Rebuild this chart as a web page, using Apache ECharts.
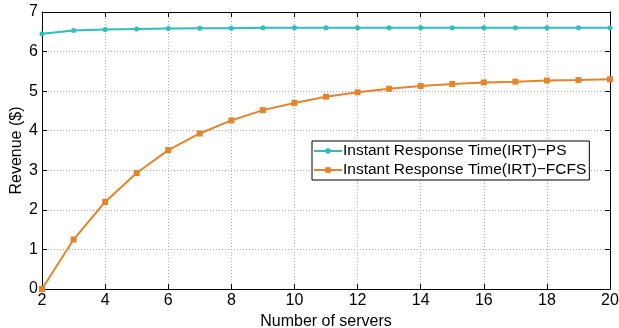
<!DOCTYPE html>
<html>
<head>
<meta charset="utf-8">
<script src="https://cdn.jsdelivr.net/npm/echarts@6/dist/echarts.min.js"></script>
<style>
  html, body { margin: 0; padding: 0; background: #fff; }
  #chart { width: 619px; height: 328px; }
</style>
</head>
<body>
<div id="chart"></div>
<script>
// Number of servers on the x axis
const servers = [2, 3, 4, 5, 6, 7, 8, 9, 10, 11, 12, 13, 14, 15, 16, 17, 18, 19, 20];

// Revenue ($) under processor sharing
const revenuePS = [6.45, 6.53, 6.56, 6.57, 6.58, 6.59, 6.59, 6.6, 6.6, 6.6, 6.6, 6.6, 6.6, 6.6, 6.6, 6.6, 6.6, 6.6, 6.6];

// Revenue ($) under first-come-first-served
const revenueFCFS = [0, 1.25, 2.2, 2.93, 3.51, 3.93, 4.26, 4.52, 4.7, 4.86, 4.97, 5.06, 5.13, 5.18, 5.22, 5.24, 5.27, 5.28, 5.3];

const seriesNames = ['Instant Response Time(IRT)\u2212PS', 'Instant Response Time(IRT)\u2212FCFS'];
const xTicks = [2, 4, 6, 8, 10, 12, 14, 16, 18, 20];
const yTicks = [0, 1, 2, 3, 4, 5, 6, 7];

const FONT = 'Liberation Sans, Arial, Helvetica, sans-serif';
const TEAL = '#2bbfbf';
const ORANGE = '#e8832a';

const pair = (xs, ys) => xs.map((x, i) => [x, ys[i]]);

const gridLine = { show: true, lineStyle: { color: '#b0b0b0', type: [1, 2], width: 1 } };
const tickIn = { show: true, inside: true, length: 5, lineStyle: { color: '#000' } };
const axisLineBlack = { show: true, onZero: false, lineStyle: { color: '#000', width: 1 } };

const chart = echarts.init(document.getElementById('chart'), null, { renderer: 'canvas' });
chart.setOption({
  animation: false,
  backgroundColor: '#fff',
  textStyle: { fontFamily: FONT },
  grid: { left: 42, right: 9, top: 12, bottom: 39, containLabel: false, outerBoundsMode: 'none' },
  legend: {
    left: 312,
    top: 141,
    orient: 'vertical',
    backgroundColor: '#fff',
    borderColor: '#000',
    borderWidth: 1,
    borderRadius: 0,
    padding: [2, 3, 2, 1],
    itemGap: 3,
    itemWidth: 28,
    itemHeight: 7,
    textStyle: { fontFamily: FONT, fontSize: 15.5, color: '#000', padding: [0, 0, 0, -4] },
    data: seriesNames
  },
  xAxis: [{
    type: 'value',
    min: 2, max: 20, interval: 2,
    position: 'bottom',
    name: 'Number of servers',
    nameLocation: 'middle',
    nameGap: 19,
    nameTextStyle: { fontFamily: FONT, fontSize: 16, color: '#000' },
    axisLine: axisLineBlack,
    axisTick: tickIn,
    axisLabel: { fontFamily: FONT, fontSize: 16, color: '#000', margin: 4, formatter: v => xTicks.includes(v) ? String(v) : '' },
    splitLine: gridLine
  }, {
    type: 'value',
    min: 2, max: 20, interval: 2,
    position: 'top',
    axisLine: axisLineBlack,
    axisTick: tickIn,
    axisLabel: { show: false },
    splitLine: { show: false }
  }],
  yAxis: [{
    type: 'value',
    min: 0, max: 7, interval: 1,
    position: 'left',
    name: 'Revenue ($)',
    nameLocation: 'middle',
    nameGap: 17,
    nameMoveOverlap: false,
    nameTextStyle: { fontFamily: FONT, fontSize: 16, color: '#000' },
    axisLine: axisLineBlack,
    axisTick: tickIn,
    axisLabel: { fontFamily: FONT, fontSize: 16, color: '#000', margin: 4, formatter: v => yTicks.includes(v) ? String(v) : '' },
    splitLine: gridLine
  }, {
    type: 'value',
    min: 0, max: 7, interval: 1,
    position: 'right',
    axisLine: axisLineBlack,
    axisTick: tickIn,
    axisLabel: { show: false },
    splitLine: { show: false }
  }],
  series: [{
    name: seriesNames[0],
    type: 'line',
    data: pair(servers, revenuePS),
    symbol: 'circle',
    symbolSize: 5,
    showAllSymbol: true,
    lineStyle: { color: TEAL, width: 2 },
    itemStyle: { color: TEAL },
    z: 3
  }, {
    name: seriesNames[1],
    type: 'line',
    data: pair(servers, revenueFCFS),
    symbol: 'rect',
    symbolSize: 6,
    showAllSymbol: true,
    lineStyle: { color: ORANGE, width: 2 },
    itemStyle: { color: ORANGE },
    z: 2
  }]
});
</script>
</body>
</html>
